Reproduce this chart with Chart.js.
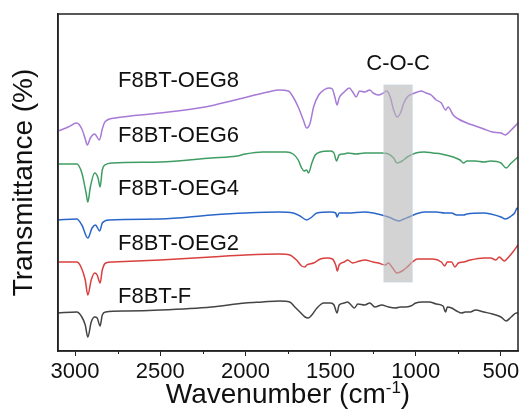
<!DOCTYPE html>
<html>
<head>
<meta charset="utf-8">
<script src="https://cdn.jsdelivr.net/npm/chart.js@4/dist/chart.umd.min.js"></script>
<style>
  html, body { margin: 0; padding: 0; background: #fff; }
  #wrap { width: 521px; height: 412px; position: relative; }
</style>
</head>
<body>
<div id="wrap"><canvas id="ftir"></canvas></div>
<script>
// [wavenumber, transmittance (a.u., offset)]
const oeg8 = [
  [3100,220],[3040,224],[2990,228],[2960,222],[2940,212],[2928,206],[2910,213],[2885,217],[2857,211],
  [2840,222],[2825,229],[2765,233],[2500,238],[2237,244],[2061,251],[1866,259],[1800,261],[1748,260],
  [1720,254],[1690,244],[1660,231],[1640,223],[1620,228],[1600,244],[1570,256],[1540,261],[1510,263],
  [1490,262],[1475,254],[1462,246],[1450,253],[1420,259],[1390,263],[1370,259],[1350,254],[1330,260],
  [1300,259],[1270,261],[1250,258],[1220,256],[1190,258],[1170,260],[1150,254],[1130,241],[1110,234],
  [1090,238],[1070,248],[1050,254],[1020,257],[990,259],[970,260],[940,258],[910,256],[880,251],
  [850,248],[825,241],[810,244],[780,236],[750,232],[700,228],[650,225],[600,222],[550,219],[500,218],
  [475,216],[440,221],[400,228],
]
const oeg6 = [
  [3100,187],[2990,187],[2960,178],[2935,158],[2925,149],[2910,164],[2885,178],[2865,173],[2853,164],
  [2840,181],[2825,186],[2780,188],[2500,189],[2200,193],[2050,195],[2000,197],[1900,199],[1760,199],
  [1720,197],[1690,191],[1670,183],[1655,180],[1640,181],[1630,178],[1610,188],[1590,196],[1560,199],
  [1500,200],[1480,198],[1465,190],[1450,196],[1420,197],[1400,198],[1350,197],[1300,198],[1250,198],
  [1200,198],[1160,197],[1130,193],[1110,188],[1080,190],[1050,194],[1000,198],[950,199],[900,198],
  [850,197],[780,194],[740,191],[720,188],[700,190],[650,190],[600,189],[560,190],[500,188],[470,183],
  [440,188],[420,191],[400,194],
]
const oeg4 = [
  [3100,131],[2990,132],[2960,126],[2925,113],[2900,123],[2880,126],[2855,120],[2840,128],[2800,131],
  [2500,132],[2200,136],[2000,138],[1800,139],[1720,138],[1680,135],[1640,131],[1610,134],[1580,138],
  [1500,139],[1470,138],[1462,134],[1450,138],[1400,138],[1300,139],[1250,138],[1200,136],[1160,134],
  [1120,131],[1100,130],[1070,132],[1040,134],[1000,137],[950,139],[880,139],[830,138],[790,138],
  [760,136],[720,136],[700,137],[600,138],[560,137],[500,134],[475,132],[440,135],[420,138],[405,143],
  [400,142],
]
const oeg2 = [
  [3100,89],[2990,89],[2965,84],[2940,71],[2925,56],[2905,71],[2885,78],[2870,76],[2853,68],[2840,81],
  [2820,88],[2780,89],[2500,91],[2200,94],[2000,96],[1800,97],[1740,96],[1700,91],[1670,85],[1650,84],
  [1640,86],[1600,88],[1560,92],[1520,93],[1490,92],[1470,86],[1460,80],[1450,86],[1420,89],[1400,91],
  [1370,88],[1330,90],[1300,91],[1250,89],[1220,88],[1180,86],[1160,88],[1140,84],[1110,78],[1080,80],
  [1050,84],[1020,89],[990,92],[950,92],[900,92],[850,89],[830,85],[815,89],[790,89],[770,84],[750,88],
  [720,89],[680,91],[600,93],[560,93],[530,91],[510,94],[480,90],[460,93],[430,99],[400,106],
]
const f8btF = [
  [3100,38],[2990,39],[2960,34],[2940,26],[2925,14],[2905,29],[2885,34],[2870,33],[2853,25],[2840,36],
  [2820,39],[2700,40],[2500,41],[2200,44],[2000,48],[1900,49],[1800,50],[1740,49],[1710,44],[1680,39],
  [1650,34],[1630,33],[1610,36],[1580,43],[1540,48],[1500,48],[1480,46],[1462,38],[1450,46],[1420,48],
  [1400,49],[1380,46],[1360,43],[1340,47],[1300,46],[1270,48],[1240,44],[1200,46],[1160,44],[1120,43],
  [1090,44],[1060,44],[1030,45],[1000,48],[960,49],[920,49],[880,47],[840,45],[825,39],[815,44],
  [790,43],[760,40],[730,38],[710,39],[680,39],[650,41],[600,39],[550,37],[500,34],[470,30],[440,34],
  [410,38],[400,38],
]

const seriesNames = ["F8BT-OEG8", "F8BT-OEG6", "F8BT-OEG4", "F8BT-OEG2", "F8BT-F"]
const seriesData = [oeg8, oeg6, oeg4, oeg2, f8btF]
const seriesColors = ["#a77ad6", "#3f9d63", "#2a66c9", "#d9403f", "#444444"]

// label anchors (wavenumber, transmittance at baseline)
const labelWn = 2748
const labelT = [264, 209, 156, 101, 48]

// shaded C-O-C band
const bandWn = [1187, 1021]
const bandT = [69, 266]
const bandLabel = "C-O-C"
const bandLabelT = 281

const majorTicks = [500, 1000, 1500, 2000, 2500, 3000]
const minorTicks = [750, 1250, 1750, 2250, 2750]

const FONT = "'Liberation Sans', Arial, sans-serif"

const decorPlugin = {
  id: "decor",
  afterDatasetsDraw(chart) {
    const { ctx, scales: { x, y } } = chart
    const x0 = x.getPixelForValue(bandWn[0]), x1 = x.getPixelForValue(bandWn[1])
    const y0 = y.getPixelForValue(bandT[1]), y1 = y.getPixelForValue(bandT[0])
    ctx.save()
    ctx.fillStyle = "rgba(182,182,182,0.6)"
    ctx.fillRect(x0, y0, x1 - x0, y1 - y0)
    ctx.strokeStyle = "rgba(200,212,225,0.8)"
    ctx.lineWidth = 1
    ctx.strokeRect(x0, y0, x1 - x0, y1 - y0)
    ctx.restore()
  },
  afterDraw(chart) {
    const { ctx, chartArea: a, scales: { x, y } } = chart
    ctx.save()
    // frame
    ctx.strokeStyle = "#222"
    ctx.lineWidth = 1.5
    ctx.strokeRect(a.left, a.top, a.right - a.left, a.bottom - a.top)
    // minor ticks
    ctx.lineWidth = 1
    minorTicks.forEach(v => {
      const px = Math.round(x.getPixelForValue(v)) + 0.5
      ctx.beginPath()
      ctx.moveTo(px, a.bottom)
      ctx.lineTo(px, a.bottom + 3)
      ctx.stroke()
    })
    // series labels
    ctx.fillStyle = "#111"
    ctx.font = "22px " + FONT
    ctx.textBaseline = "alphabetic"
    ctx.textAlign = "left"
    seriesNames.forEach((name, i) => {
      ctx.fillText(name, x.getPixelForValue(labelWn), y.getPixelForValue(labelT[i]))
    })
    ctx.textAlign = "center"
    ctx.fillText(bandLabel, x.getPixelForValue((bandWn[0] + bandWn[1]) / 2), y.getPixelForValue(bandLabelT))
    // x title with superscript
    const main = "Wavenumber (cm", sup = "-1", tail = ")"
    ctx.textAlign = "left"
    ctx.font = "28px " + FONT
    const wMain = ctx.measureText(main).width, wTail = ctx.measureText(tail).width
    ctx.font = "17px " + FONT
    const wSup = ctx.measureText(sup).width
    const total = wMain + wSup + wTail
    let tx = (a.left + a.right) / 2 - total / 2
    const by = chart.height - 9
    ctx.font = "28px " + FONT
    ctx.fillText(main, tx, by)
    ctx.font = "17px " + FONT
    ctx.fillText(sup, tx + wMain, by - 10)
    ctx.font = "28px " + FONT
    ctx.fillText(tail, tx + wMain + wSup, by)
    ctx.restore()
  },
}

new Chart(document.getElementById("ftir"), {
  type: "line",
  data: {
    datasets: seriesData.map((pts, i) => ({
      label: seriesNames[i],
      data: pts.map(p => ({ x: p[0], y: p[1] })),
      borderColor: seriesColors[i],
      borderWidth: 1.5,
      pointRadius: 0,
      fill: false,
      cubicInterpolationMode: "monotone",
    })),
  },
  options: {
    responsive: true,
    maintainAspectRatio: false,
    animation: false,
    layout: { padding: { top: 14, right: 3, left: 0, bottom: 0 } },
    plugins: { legend: { display: false }, tooltip: { enabled: false } },
    scales: {
      x: {
        type: "linear",
        reverse: true,
        min: 400,
        max: 3100,
        afterBuildTicks: axis => { axis.ticks = majorTicks.map(v => ({ value: v })) },
        afterFit: s => { s.height = 61 },
        ticks: {
          color: "#111",
          font: { size: 22, family: FONT },
          maxRotation: 0,
          padding: 3,
          callback: v => String(v),
        },
        grid: { display: true, drawOnChartArea: false, tickLength: 5, tickColor: "#222" },
        border: { display: true, color: "#222", width: 1.5 },
      },
      y: {
        min: 0,
        max: 337,
        afterFit: s => { s.width = 58 },
        ticks: { display: false },
        grid: { display: false, drawTicks: false },
        border: { display: true, color: "#222", width: 1.5 },
        title: {
          display: true,
          text: "Transmittance (%)",
          color: "#111",
          font: { size: 28, family: FONT },
          padding: { top: 7, bottom: 0 },
        },
      },
    },
  },
  plugins: [decorPlugin],
})
</script>
</body>
</html>
